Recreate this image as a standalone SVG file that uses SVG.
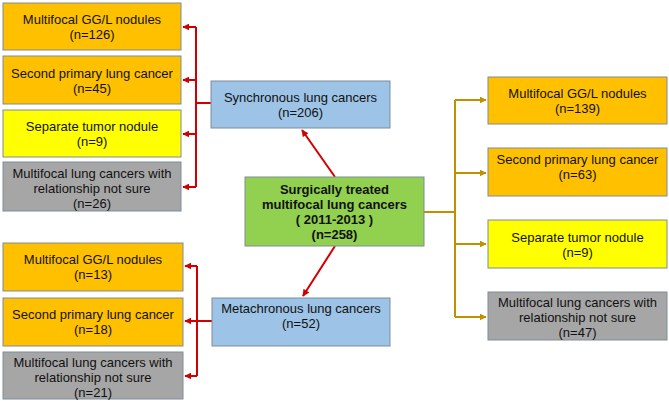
<svg xmlns="http://www.w3.org/2000/svg" width="669" height="401" viewBox="0 0 669 401">
<style>
.box{stroke:#7f8c9a;stroke-width:1}
.o{fill:#FFC000}.y{fill:#FFFF00}.g{fill:#A6A6A6}.b{fill:#9DC3E6}.gr{fill:#92D050}
text{font-family:"Liberation Sans",Arial,sans-serif;font-size:13px;fill:#111;text-anchor:middle}
.bold{font-weight:bold}
.red{stroke:#D00000;stroke-width:2;fill:none}
.gold{stroke:#BF9000;stroke-width:2;fill:none}
</style>
<defs>
<marker id="ar" viewBox="0 0 10 10" refX="9" refY="5" markerWidth="3.5" markerHeight="3.5" orient="auto"><path d="M0,0L10,5L0,10z" fill="#D00000"/></marker>
<marker id="ag" viewBox="0 0 10 10" refX="9" refY="5" markerWidth="3.5" markerHeight="3.5" orient="auto"><path d="M0,0L10,5L0,10z" fill="#BF9000"/></marker>
</defs>
<rect width="669" height="401" fill="#fff"/>
<g id="connectors">
<path class="red" d="M196,27V187M196,103H211"/>
<line class="red" x1="196" y1="27" x2="183" y2="27" marker-end="url(#ar)"/>
<line class="red" x1="196" y1="80" x2="183" y2="80" marker-end="url(#ar)"/>
<line class="red" x1="196" y1="134" x2="183" y2="134" marker-end="url(#ar)"/>
<line class="red" x1="196" y1="187" x2="183" y2="187" marker-end="url(#ar)"/>
<path class="red" d="M197,266V376M197,321H212"/>
<line class="red" x1="197" y1="266" x2="185" y2="266" marker-end="url(#ar)"/>
<line class="red" x1="197" y1="321" x2="185" y2="321" marker-end="url(#ar)"/>
<line class="red" x1="197" y1="376" x2="185" y2="376" marker-end="url(#ar)"/>
<line class="red" x1="335" y1="177" x2="302" y2="130" marker-end="url(#ar)"/>
<line class="red" x1="335" y1="246" x2="303" y2="296" marker-end="url(#ar)"/>
<path class="gold" d="M424,212H455M455,100V317"/>
<line class="gold" x1="455" y1="100" x2="486" y2="100" marker-end="url(#ag)"/>
<line class="gold" x1="455" y1="173" x2="486" y2="173" marker-end="url(#ag)"/>
<line class="gold" x1="455" y1="244" x2="486" y2="244" marker-end="url(#ag)"/>
<line class="gold" x1="455" y1="317" x2="486" y2="317" marker-end="url(#ag)"/>
</g>
<g id="center"><rect class="box gr" x="245" y="177" width="179" height="69"/>
<text class="bold" x="334.5" y="194">Surgically treated</text>
<text class="bold" x="334.5" y="209">multifocal lung cancers</text>
<text class="bold" x="334.5" y="224">( 2011-2013 )</text>
<text class="bold" x="334.5" y="239">(n=258)</text></g>
<g id="sync"><rect class="box b" x="211" y="81" width="179" height="47"/>
<text x="300.5" y="102">Synchronous lung cancers</text><text x="300.5" y="117">(n=206)</text></g>
<g id="meta"><rect class="box b" x="212" y="298" width="178" height="48"/>
<text x="301" y="313">Metachronous lung cancers</text><text x="301" y="328">(n=52)</text></g>
<g id="s1"><rect class="box o" x="3" y="3" width="178" height="47"/>
<text x="92" y="24">Multifocal GG/L nodules</text><text x="92" y="39">(n=126)</text></g>
<g id="s2"><rect class="box o" x="3" y="56" width="178" height="48"/>
<text x="92" y="78">Second primary lung cancer</text><text x="92" y="93">(n=45)</text></g>
<g id="s3"><rect class="box y" x="3" y="110" width="178" height="47"/>
<text x="92" y="131">Separate tumor nodule</text><text x="92" y="146">(n=9)</text></g>
<g id="s4"><rect class="box g" x="3" y="162" width="178" height="49"/>
<text x="92" y="178">Multifocal lung cancers with</text><text x="92" y="193">relationship not sure</text><text x="92" y="208">(n=26)</text></g>
<g id="m1"><rect class="box o" x="3" y="243" width="180" height="48"/>
<text x="93" y="264">Multifocal GG/L nodules</text><text x="93" y="279">(n=13)</text></g>
<g id="m2"><rect class="box o" x="3" y="298" width="180" height="48"/>
<text x="93" y="319">Second primary lung cancer</text><text x="93" y="334">(n=18)</text></g>
<g id="m3"><rect class="box g" x="3" y="352" width="180" height="47"/>
<text x="93" y="367">Multifocal lung cancers with</text><text x="93" y="382">relationship not sure</text><text x="93" y="397">(n=21)</text></g>
<g id="r1"><rect class="box o" x="488" y="77" width="179" height="47"/>
<text x="577.5" y="98">Multifocal GG/L nodules</text><text x="577.5" y="113">(n=139)</text></g>
<g id="r2"><rect class="box o" x="488" y="148" width="179" height="48"/>
<text x="577.5" y="164">Second primary lung cancer</text><text x="577.5" y="179">(n=63)</text></g>
<g id="r3"><rect class="box y" x="488" y="220" width="179" height="48"/>
<text x="577.5" y="242">Separate tumor nodule</text><text x="577.5" y="257">(n=9)</text></g>
<g id="r4"><rect class="box g" x="488" y="292" width="179" height="48"/>
<text x="577.5" y="307">Multifocal lung cancers with</text><text x="577.5" y="322">relationship not sure</text><text x="577.5" y="337">(n=47)</text></g>
</svg>
